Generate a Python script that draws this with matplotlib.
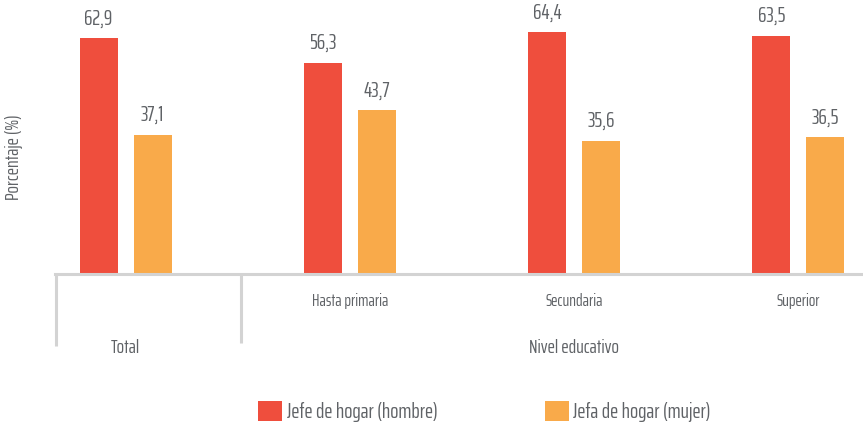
import matplotlib
matplotlib.use("Agg")
import matplotlib.pyplot as plt
import numpy as np

categories = ["Total", "Hasta primaria", "Secundaria", "Superior"]
hombre = [62.9, 56.3, 64.4, 63.5]
mujer = [37.1, 43.7, 35.6, 36.5]
series_names = ["Jefe de hogar (hombre)", "Jefa de hogar (mujer)"]
group_label = "Nivel educativo"
ylabel = "Porcentaje (%)"

plt.rcParams['font.family'] = ['Saira ExtraCondensed', 'DejaVu Sans']

RED = "#EF4E3D"
ORANGE = "#F9AA4A"
TXT = "#5F6266"
LINE = "#D3D3D3"

W, H = 863, 424
fig = plt.figure(figsize=(W/100, H/100), dpi=100)
ppu = 3.75
ax_left, ax_bottom_px, ax_top_px = 55, 274, 8
ax = fig.add_axes([ax_left/W, (H-ax_bottom_px)/H, (W-ax_left)/W, (ax_bottom_px-ax_top_px)/H])

x = np.arange(len(categories))
bw = 38/224
off = 27/224
b1 = ax.bar(x-off, hombre, bw, color=RED, label=series_names[0])
b2 = ax.bar(x+off, mujer, bw, color=ORANGE, label=series_names[1])

for bars, vals in ((b1, hombre), (b2, mujer)):
    for r, v in zip(bars, vals):
        ax.annotate(f"{v:.1f}".replace(".", ","), (r.get_x()+r.get_width()/2, v),
                    xytext=(0, 7), textcoords="offset points", ha="center", va="bottom",
                    fontsize=15.5, color=TXT)

ax.set_xlim(-70.5/224, 3 + 64.5/224)
ax.set_ylim(0, (ax_bottom_px-ax_top_px)/ppu)
for s in ("top", "right", "left"):
    ax.spines[s].set_visible(False)
ax.spines["bottom"].set_color(LINE)
ax.spines["bottom"].set_linewidth(2.2)
ax.set_yticks([])
ax.set_xticks(x[1:])
ax.set_xticklabels(categories[1:], fontsize=12.4, color=TXT)
ax.tick_params(axis="x", length=0, pad=14)

# Total label and group label
ax.text(0, -74/ppu, categories[0], ha="center", va="center", fontsize=14.2, color=TXT)
ax.text(2, -74/ppu, group_label, ha="center", va="center", fontsize=14.2, color=TXT)

# divider lines
for xd, yl in ((-69.5/224, 72), (0.515, 69)):
    ax.plot([xd, xd], [0, -yl/ppu], color=LINE, lw=2.2, clip_on=False, solid_capstyle="butt")

fig.text(14/W, 1-157/H, ylabel, rotation=90, ha="center", va="center", fontsize=14.2, color=TXT)

leg = fig.legend(handles=[b1, b2], labels=series_names, loc="center", ncol=2,
                 bbox_to_anchor=(484.5/W, 1-411.5/H), frameon=False, fontsize=15.5,
                 handlelength=1.1, handleheight=1.05, handletextpad=0.22, columnspacing=5.0,
                 labelcolor=TXT, borderpad=0, borderaxespad=0)

fig.savefig("out.png", dpi=100)
